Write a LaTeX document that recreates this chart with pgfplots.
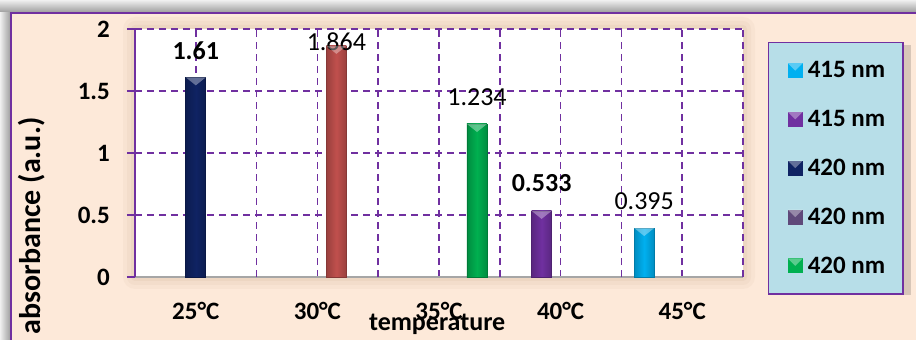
\documentclass[border=0pt]{standalone}
\usepackage{fontspec}
\setmainfont{Carlito}
\usepackage{pgfplots}
\pgfplotsset{compat=1.18}

\definecolor{peach}{HTML}{FDE9D9}
\definecolor{frame}{HTML}{7030A0}
\definecolor{navybar}{HTML}{0F2363}
\definecolor{redbar}{HTML}{C0504D}
\definecolor{greenbar}{HTML}{00B050}
\definecolor{purplebar}{HTML}{7030A0}
\definecolor{cyanbar}{HTML}{00B0F0}
\definecolor{mutedpurple}{HTML}{5F497A}
\definecolor{legendfill}{HTML}{B7DEE8}
\definecolor{axisgrey}{HTML}{A6A6A6}

% light bevel drawn on top of each bar
\pgfdeclareplotmark{bevel}{%
  \pgfpathmoveto{\pgfqpoint{-10pt}{0pt}}%
  \pgfpathlineto{\pgfqpoint{10pt}{0pt}}%
  \pgfpathlineto{\pgfqpoint{0pt}{-8pt}}%
  \pgfpathclose\pgfusepathqfill}

\pgfplotsset{
  colbar/.style 2 args={ybar, bar width=20pt, bar shift=#2,
    draw=#1!70!black, line width=0.6pt,
    left color=#1!80!black, right color=#1!80!black, middle color=#1,
    forget plot},
  bevelmark/.style={only marks, mark=bevel, forget plot,
    mark options={xshift=#1, draw=none, fill=white, fill opacity=0.35}},
  vallabel/.style n args={3}{nodes near coords={\pgfmathprintnumber[precision=3]{\pgfplotspointmeta}},
    nodes near coords style={anchor=center, xshift=#1, yshift=#2, text=black,
      font=\fontsize{26}{30}\selectfont#3}},
}

\begin{document}
\begin{tikzpicture}[x=1pt,y=1pt]
\useasboundingbox (0,0) rectangle (916,340);
% page and frame
\fill[white] (0,0) rectangle (916,340);
\shade[top color=black!6, bottom color=black!40] (0,327) rectangle (916,340);
\shade[left color=black!6, right color=black!40] (0,0) rectangle (11,327);
\fill[peach] (11,-5) rectangle (925,327);
\draw[frame, line width=2pt] (11,-5) -- (11,327) -- (925,327);
% soft shadow round the plot area
\foreach \d/\o in {12/0.035,8/0.04,4/0.05}{
  \fill[brown!70!black, opacity=\o, rounded corners=\d] (135-\d,63-\d) rectangle (743+\d,311+\d);
}
% shadow under the legend box
\fill[black, opacity=0.15] (771,45) rectangle (911,295);

\begin{axis}[
  at={(135pt,63pt)}, anchor=south west,
  scale only axis, width=608pt, height=248pt,
  xmin=-0.5, xmax=4.5, ymin=0, ymax=2,
  axis background/.style={fill=white},
  axis x line*=bottom, axis y line*=left,
  x axis line style={draw=axisgrey, line width=1.5pt, -},
  y axis line style={draw=frame, line width=1.5pt, -},
  /pgf/number format/assume math mode=true,
  ticklabel style={font=\fontsize{25}{30}\selectfont\bfseries, inner sep=0pt},
  tick align=outside, major tick length=8pt,
  xtick={0,...,4}, xticklabels={25°C,30°C,35°C,40°C,45°C},
  x tick style={draw=none},
  xticklabel style={yshift=-17pt},
  extra x ticks={-0.5,0.5,1.5,2.5,3.5,4.5}, extra x tick labels={},
  extra x tick style={grid=major, tick style={draw=axisgrey, line width=1.5pt}},
  ytick={0.5,1,1.5,2},
  extra y ticks={0}, extra y tick style={grid=none},
  y tick style={draw=frame, line width=1.5pt},
  yticklabel style={xshift=-17pt},
  grid=major,
  major grid style={draw=frame, line width=1.5pt, dash pattern=on 7pt off 5pt},
  xlabel={temperature},
  xlabel style={at={(axis description cs:0.497,0)}, anchor=center, yshift=-47pt,
    font=\fontsize{26}{30}\selectfont\bfseries, inner sep=0pt},
  ylabel={absorbance (a.u.)},
  ylabel style={at={(axis description cs:-0.1694,0.206)}, anchor=center,
    font=\fontsize{30}{34}\selectfont\bfseries, inner sep=0pt},
  legend style={at={(1,1)}, anchor=north west, xshift=25pt, yshift=-13pt,
    fill=legendfill, draw=frame, line width=1.5pt,
    font=\fontsize{25}{30}\selectfont\bfseries,
    row sep=27pt, inner xsep=16pt, inner ysep=17pt},
  legend cell align=left,
  legend image code/.code={
    \path[draw=none, fill=none] (0pt,-0.1pt) rectangle (21pt,0.1pt);
    \fill[#1, draw=none] (3pt,-7.5pt) rectangle (18pt,7.5pt);
    \fill[white, opacity=0.35, draw=none] (3pt,7.5pt) -- (18pt,7.5pt) -- (10.5pt,0pt) -- cycle;},
]
% cyan series (45 °C)
\addplot[colbar={cyanbar}{-38pt}, vallabel={-38pt}{27pt}{}] coordinates {(4,0.395)};
\addplot[bevelmark=-38pt] coordinates {(4,0.395)};
% purple series (40 °C)
\addplot[colbar={purplebar}{-19pt}, vallabel={-19pt}{28pt}{\bfseries}] coordinates {(3,0.533)};
\addplot[bevelmark=-19pt] coordinates {(3,0.533)};
% navy series (25 °C)
\addplot[colbar={navybar}{0pt}, vallabel={0pt}{27pt}{\bfseries}] coordinates {(0,1.61)};
\addplot[bevelmark=0pt] coordinates {(0,1.61)};
% red series (30 °C)
\addplot[colbar={redbar}{19pt}, vallabel={19pt}{4pt}{}] coordinates {(1,1.864)};
\addplot[bevelmark=19pt] coordinates {(1,1.864)};
% green series (35 °C)
\addplot[colbar={greenbar}{38pt}, vallabel={38pt}{27pt}{}] coordinates {(2,1.234)};
\addplot[bevelmark=38pt] coordinates {(2,1.234)};

\addlegendimage{fill=cyanbar}\addlegendentry{415 nm}
\addlegendimage{fill=purplebar}\addlegendentry{415 nm}
\addlegendimage{fill=navybar}\addlegendentry{420 nm}
\addlegendimage{fill=mutedpurple}\addlegendentry{420 nm}
\addlegendimage{fill=greenbar}\addlegendentry{420 nm}
\end{axis}
\end{tikzpicture}
\end{document}
